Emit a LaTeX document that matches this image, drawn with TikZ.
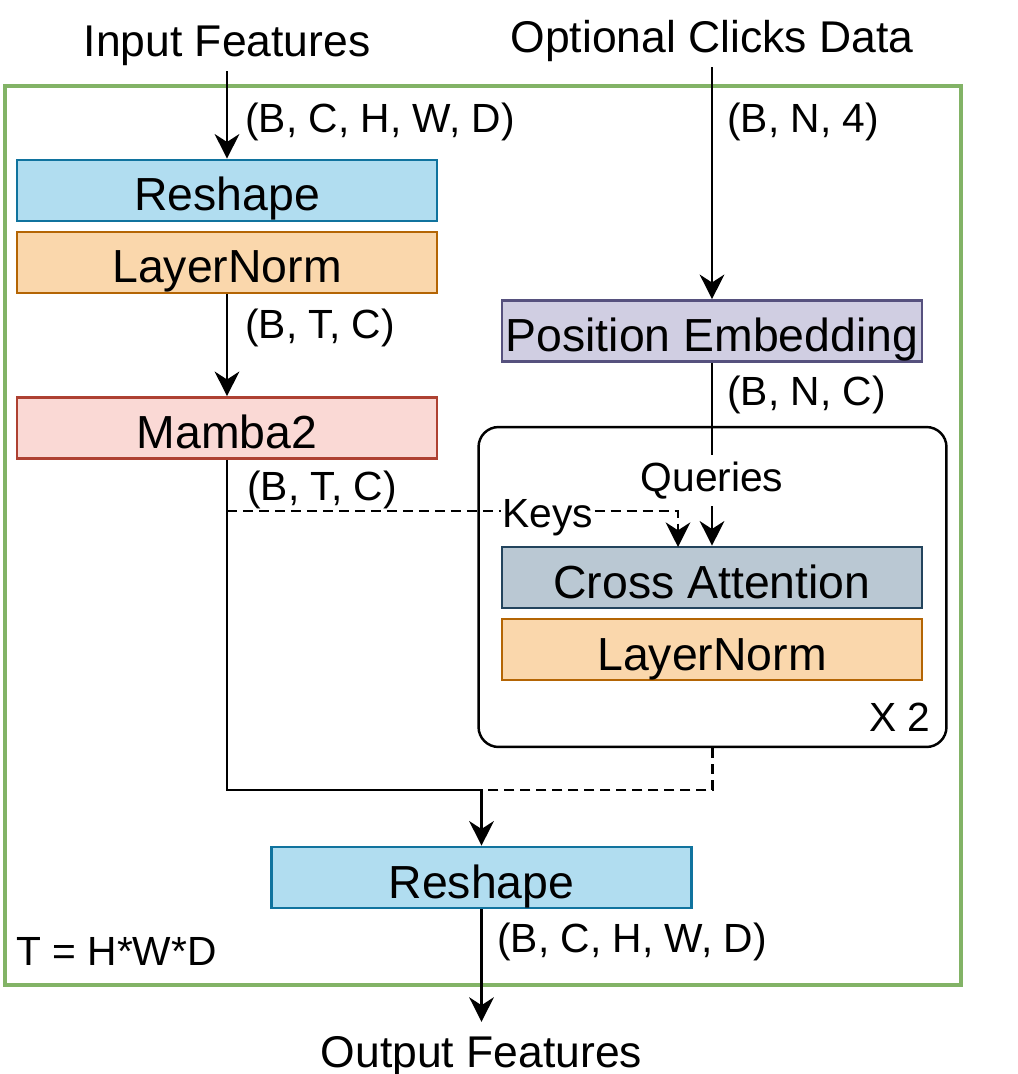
\documentclass[tikz,border=0pt]{standalone}
\usepackage{fontspec}
\setmainfont{Liberation Sans}
\usetikzlibrary{arrows.meta}
\definecolor{rsF}{HTML}{B1DDF0}\definecolor{rsD}{HTML}{10739E}
\definecolor{lnF}{HTML}{FAD7AC}\definecolor{lnD}{HTML}{B46504}
\definecolor{mbF}{HTML}{FAD9D5}\definecolor{mbD}{HTML}{AE4132}
\definecolor{peF}{HTML}{D0CEE2}\definecolor{peD}{HTML}{56517E}
\definecolor{caF}{HTML}{BAC8D3}\definecolor{caD}{HTML}{23445D}
\definecolor{frameG}{HTML}{82B366}
\newcommand{\myboxfont}{\fontsize{26.4pt}{30pt}\selectfont}
\newcommand{\myhdrfont}{\fontsize{25.3pt}{30pt}\selectfont}
\newcommand{\mylblfont}{\fontsize{23.2pt}{28pt}\selectfont}
\begin{document}
\begin{tikzpicture}[x=0.02cm,y=-0.02cm,
  blk/.style={draw, line width=1.5pt, minimum width=8.4cm, minimum height=1.22cm,
    inner sep=0pt, text height=1.02cm, text depth=0.2cm, font=\myboxfont},
  reshapebox/.style={blk, fill=rsF, draw=rsD},
  lnbox/.style={blk, fill=lnF, draw=lnD},
  mbbox/.style={blk, fill=mbF, draw=mbD},
  pebox/.style={blk, fill=peF, draw=peD},
  cabox/.style={blk, fill=caF, draw=caD},
  hdr/.style={font=\myhdrfont, inner sep=0pt, anchor=base},
  lbl/.style={font=\mylblfont, inner sep=0pt, anchor=base west},
  arr/.style={-{Stealth[length=14pt,width=14pt,inset=4.5pt]}, line width=1.4pt},
  dsh/.style={line width=1.4pt, dash pattern=on 5.7pt off 3.4pt},
  ln/.style={line width=1.4pt}
]
\useasboundingbox (0,0) rectangle (1017,1074);
% outer frame
\draw[frameG, line width=2.8pt] (5,86) rectangle (961,985);
% repeat block
\node[draw, line width=1.4pt, rounded corners=0.4cm, minimum width=9.36cm, minimum height=6.4cm, inner sep=0pt] (rep) at (712.5,587) {};
% boxes
\node[reshapebox] (rs1) at (227,190.5) {Reshape};
\node[lnbox] (ln1) at (227,262.5) {LayerNorm};
\node[mbbox] (mb) at (227,428) {Mamba2};
\node[pebox] (pe) at (712,331) {Position Embedding};
\node[cabox] (ca) at (712,577.5) {Cross Attention};
\node[lnbox] (ln2) at (712,649.5) {LayerNorm};
\node[reshapebox] (rs2) at (481.5,877.5) {Reshape};
% headers
\node[hdr, outer sep=3pt] (inp) at (227,57) {Input Features};
\node[hdr, outer sep=3pt] (clk) at (712,53) {Optional Clicks Data};
\node[hdr, outer sep=8pt] (out) at (481.5,1067) {Output Features};
% labels
\node[lbl] (l1) at (245,133) {(B, C, H, W, D)};
\node[lbl] (l2) at (727,133) {(B, N, 4)};
\node[lbl] (l3) at (245,338) {(B, T, C)};
\node[lbl] (l4) at (727,405) {(B, N, C)};
\node[lbl] (l5) at (247,500) {(B, T, C)};
\node[lbl] (l6) at (497,952) {(B, C, H, W, D)};
\node[lbl] (tl) at (16,965) {T = H*W*D};
\node[font=\mylblfont, inner sep=0pt, anchor=base east] (x2) at (931,731) {X 2};
% coordinates
\coordinate (kstart) at (227,511);
\coordinate (kend) at (678,547);
\coordinate (jn) at (481.5,790);
% connectors
\draw[arr] (inp.south) -- (rs1.north);
\draw[arr] (clk.south) -- (pe.north);
\draw[arr] (ln1.south) -- (mb.north);
\draw[arr] (pe.south) -- node[pos=0.703, anchor=base, font=\mylblfont, fill=white, inner sep=4pt] (q) {Queries} (ca.north);
\draw[dsh, -{Stealth[length=14pt,width=14pt,inset=4.5pt]}] (kstart) -| (kend);
\node[lbl, fill=white, inner sep=0.5pt] (keys) at (501,527) {Keys};
\draw[ln] (mb.south) |- (jn);
\draw[dsh] (rep.south) |- (jn);
\draw[arr] (jn) -- (rs2.north);
\draw[arr] (rs2.south) -- (out.north);
\end{tikzpicture}
\end{document}
